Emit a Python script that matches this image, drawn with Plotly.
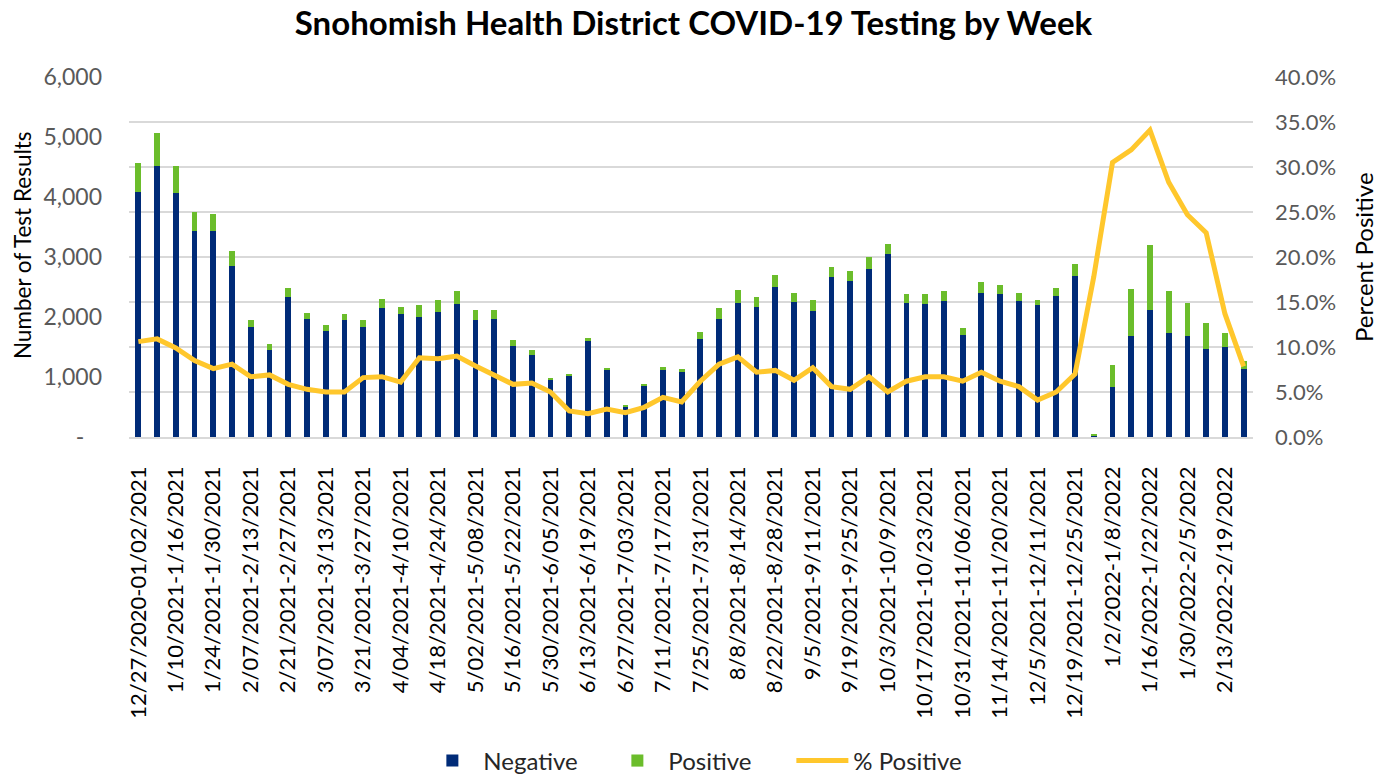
import plotly.graph_objects as go

weeks = [
    "12/27/2020-01/02/2021", "1/03/2021-1/09/2021", "1/10/2021-1/16/2021", "1/17/2021-1/23/2021",
    "1/24/2021-1/30/2021", "1/31/2021-2/06/2021", "2/07/2021-2/13/2021", "2/14/2021-2/20/2021",
    "2/21/2021-2/27/2021", "2/28/2021-3/06/2021", "3/07/2021-3/13/2021", "3/14/2021-3/20/2021",
    "3/21/2021-3/27/2021", "3/28/2021-4/03/2021", "4/04/2021-4/10/2021", "4/11/2021-4/17/2021",
    "4/18/2021-4/24/2021", "4/25/2021-5/01/2021", "5/02/2021-5/08/2021", "5/09/2021-5/15/2021",
    "5/16/2021-5/22/2021", "5/23/2021-5/29/2021", "5/30/2021-6/05/2021", "6/06/2021-6/12/2021",
    "6/13/2021-6/19/2021", "6/20/2021-6/26/2021", "6/27/2021-7/03/2021", "7/04/2021-7/10/2021",
    "7/11/2021-7/17/2021", "7/18/2021-7/24/2021", "7/25/2021-7/31/2021", "8/1/2021-8/7/2021",
    "8/8/2021-8/14/2021", "8/15/2021-8/21/2021", "8/22/2021-8/28/2021", "8/29/2021-9/4/2021",
    "9/5/2021-9/11/2021", "9/12/2021-9/18/2021", "9/19/2021-9/25/2021", "9/26/2021-10/2/2021",
    "10/3/2021-10/9/2021", "10/10/2021-10/16/2021", "10/17/2021-10/23/2021", "10/24/2021-10/30/2021",
    "10/31/2021-11/06/2021", "11/07/2021-11/13/2021", "11/14/2021-11/20/2021", "11/28/2021-12/04/2021",
    "12/5/2021-12/11/2021", "12/12/2021-12/18/2021", "12/19/2021-12/25/2021", "12/26/2021-1/1/2022",
    "1/2/2022-1/8/2022", "1/9/2022-1/15/2022", "1/16/2022-1/22/2022", "1/23/2022-1/29/2022",
    "1/30/2022-2/5/2022", "2/6/2022-2/12/2022", "2/13/2022-2/19/2022", "2/20/2022-2/26/2022",
]

negative = [4083, 4517, 4067, 3428, 3433, 2850, 1833, 1450, 2333, 1967, 1767, 1950, 1833, 2150, 2050,
            2000, 2078, 2217, 1950, 1967, 1517, 1367, 944, 1017, 1600, 1117, 500, 850, 1117, 1089,
            1633, 1967, 2233, 2167, 2500, 2250, 2100, 2672, 2600, 2800, 3044, 2228, 2217, 2267, 1700,
            2400, 2378, 2267, 2200, 2350, 2678, 28, 833, 1683, 2111, 1739, 1683, 1467, 1500, 1139]

positive = [489, 555, 444, 316, 284, 256, 123, 106, 150, 105, 94, 106, 123, 150, 122,
            194, 200, 216, 172, 150, 94, 77, 39, 33, 56, 33, 22, 33, 55, 44,
            117, 177, 223, 166, 194, 156, 183, 161, 161, 200, 173, 150, 161, 166, 117,
            189, 150, 133, 89, 128, 200, 6, 361, 789, 1083, 689, 556, 427, 239, 128]

pct_positive = [10.6, 10.9, 9.9, 8.5, 7.6, 8.1, 6.7, 6.9, 5.85, 5.3, 5.0, 5.0, 6.6, 6.7, 6.1,
                8.8, 8.7, 9.0, 7.9, 6.85, 5.85, 6.0, 5.0, 2.9, 2.6, 3.1, 2.7, 3.3, 4.4, 3.9,
                6.2, 8.1, 8.9, 7.2, 7.4, 6.3, 7.7, 5.6, 5.3, 6.7, 5.0, 6.2, 6.7, 6.7, 6.2,
                7.2, 6.2, 5.6, 4.1, 5.0, 7.0, 17.8, 30.5, 31.9, 34.1, 28.3, 24.7, 22.7, 13.7, 7.85]

left_tickvals = [0, 1000, 2000, 3000, 4000, 5000, 6000]
left_ticktext = ["-\u00a0\u00a0\u00a0", "1,000", "2,000", "3,000", "4,000", "5,000", "6,000"]

FONT = "Lato"
NAVY = "#002B78"
GREEN = "#6BBD2B"
YELLOW = "#FFC72C"
GREY = "#595959"

fig = go.Figure()
fig.add_trace(go.Bar(x=weeks, y=negative, name="Negative", marker=dict(color=NAVY, line=dict(width=0))))
fig.add_trace(go.Bar(x=weeks, y=positive, name="Positive", marker=dict(color=GREEN, line=dict(width=0))))
fig.add_trace(go.Scatter(x=weeks, y=[p / 100 for p in pct_positive], name="% Positive", yaxis="y2",
                         mode="lines", line=dict(color=YELLOW, width=5)))

fig.update_layout(
    width=1387, height=776,
    margin=dict(l=129, r=134, t=77, b=339, autoexpand=False),
    paper_bgcolor="white", plot_bgcolor="white",
    barmode="stack", bargap=0.69,
    font=dict(family=FONT, size=19, color=GREY),
    title=dict(text="<b>Snohomish Health District COVID-19 Testing by Week</b>",
               x=0.5, xanchor="center", y=0.9704, yanchor="middle",
               font=dict(family=FONT, size=33, color="#000000")),
    xaxis=dict(type="category", tickvals=weeks[::2], ticktext=weeks[::2], tickangle=-90,
               showgrid=False, showline=True, linecolor="#D9D9D9", linewidth=1.5,
               ticks="", ticklabelstandoff=19, automargin=False,
               tickfont=dict(family=FONT, size=22, color="#000000")),
    yaxis=dict(range=[0, 6000], tickvals=left_tickvals, ticktext=left_ticktext,
               showgrid=False, zeroline=False, ticks="", ticklabelstandoff=26, automargin=False,
               tickfont=dict(family=FONT, size=23, color=GREY)),
    yaxis2=dict(range=[0, 0.4], dtick=0.05, tickformat=".1%", overlaying="y", side="right",
                showgrid=True, gridcolor="#D9D9D9", gridwidth=1.5, zeroline=False, ticks="",
                ticklabelstandoff=21, automargin=False,
                tickfont=dict(family=FONT, size=22, color=GREY)),
    legend=dict(orientation="h", x=0.507, xanchor="center", y=-0.9, yanchor="middle",
                font=dict(family=FONT, size=24, color="#262626"), traceorder="normal",
                itemwidth=52, entrywidth=118, entrywidthmode="pixels"),
    annotations=[
        dict(text="Number of Test Results", xref="paper", yref="paper", x=-0.0952, y=0.533,
             xanchor="center", yanchor="middle", textangle=-90, showarrow=False,
             font=dict(family=FONT, size=22.5, color="#000000")),
        dict(text="Percent Positive", xref="paper", yref="paper", x=1.0979, y=0.5,
             xanchor="center", yanchor="middle", textangle=-90, showarrow=False,
             font=dict(family=FONT, size=24, color="#000000")),
    ],
)

fig.write_html("out.html", config={"displayModeBar": False},
               post_script="document.body.style.margin='0px';")
